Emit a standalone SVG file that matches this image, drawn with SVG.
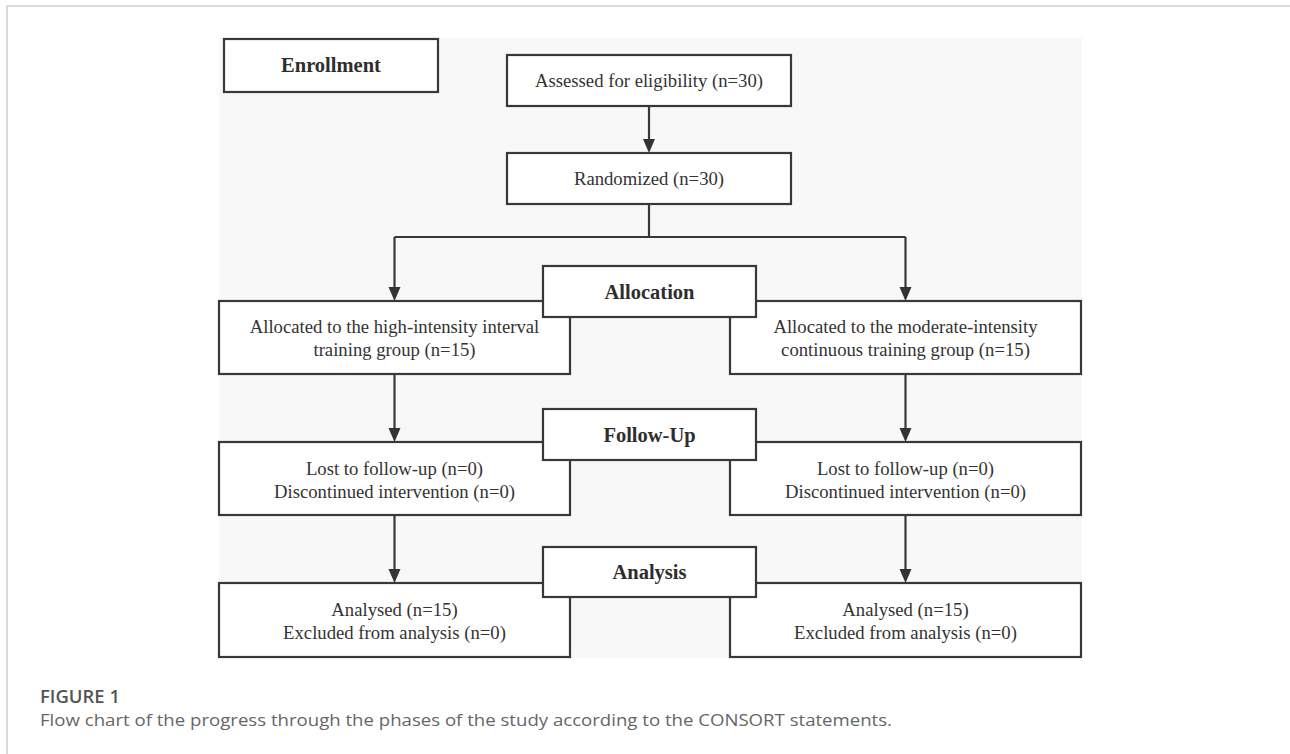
<svg xmlns="http://www.w3.org/2000/svg" width="1290" height="754" viewBox="0 0 1290 754">
<style>
.box{fill:#ffffff;stroke:#383838;stroke-width:2.2}
.t{font-family:"Liberation Serif","Times New Roman",serif;font-size:18.7px;fill:#333333;text-anchor:middle}
.b{font-family:"Liberation Serif","Times New Roman",serif;font-size:20.5px;font-weight:bold;fill:#2e2e2e;text-anchor:middle}
.c{fill:none;stroke:#383838;stroke-width:2.2}
</style>
<defs>
<marker id="ah" markerUnits="userSpaceOnUse" markerWidth="12" markerHeight="15" refX="6" refY="15" orient="auto-start-reverse" viewBox="0 0 12 15">
<path d="M0,0 L12,0 L6,15 z" fill="#333333"/>
</marker>
</defs>
<rect x="0" y="0" width="1290" height="754" fill="#ffffff"/>
<rect x="7" y="6" width="1300" height="800" fill="none" stroke="#cfcfcf" stroke-width="1.5"/>
<rect x="219" y="38" width="863" height="620" fill="#f8f8f8"/>

<g id="connectors">
<line class="c" x1="649" y1="106" x2="649" y2="140"/>
<path d="M643,139 L655,139 L649,153 z" fill="#333"/>
<polyline class="c" points="649,204 649,237"/>
<line class="c" x1="394.5" y1="237" x2="905.5" y2="237"/>
<line class="c" x1="394.5" y1="237" x2="394.5" y2="288"/>
<path d="M388.5,287 L400.5,287 L394.5,301 z" fill="#333"/>
<line class="c" x1="905.5" y1="237" x2="905.5" y2="288"/>
<path d="M899.5,287 L911.5,287 L905.5,301 z" fill="#333"/>
<line class="c" x1="394.5" y1="374" x2="394.5" y2="429"/>
<path d="M388.5,428 L400.5,428 L394.5,442 z" fill="#333"/>
<line class="c" x1="905.5" y1="374" x2="905.5" y2="429"/>
<path d="M899.5,428 L911.5,428 L905.5,442 z" fill="#333"/>
<line class="c" x1="394.5" y1="515" x2="394.5" y2="570"/>
<path d="M388.5,569 L400.5,569 L394.5,583 z" fill="#333"/>
<line class="c" x1="905.5" y1="515" x2="905.5" y2="570"/>
<path d="M899.5,569 L911.5,569 L905.5,583 z" fill="#333"/>
</g>

<g id="enrollment">
<rect class="box" x="224" y="39" width="214" height="53"/>
<text class="b" x="331" y="72">Enrollment</text>
</g>
<g id="assessed">
<rect class="box" x="507" y="55" width="284" height="51"/>
<text class="t" x="649" y="87">Assessed for eligibility (n=30)</text>
</g>
<g id="randomized">
<rect class="box" x="507" y="153" width="284" height="51"/>
<text class="t" x="649" y="185">Randomized (n=30)</text>
</g>

<g id="alloc-left">
<rect class="box" x="219" y="301" width="351" height="73"/>
<text class="t" x="394.5" y="333">Allocated to the high-intensity interval</text>
<text class="t" x="394.5" y="356">training group (n=15)</text>
</g>
<g id="alloc-right">
<rect class="box" x="730" y="301" width="351" height="73"/>
<text class="t" x="905.5" y="333">Allocated to the moderate-intensity</text>
<text class="t" x="905.5" y="356">continuous training group (n=15)</text>
</g>
<g id="allocation">
<rect class="box" x="543" y="266" width="213" height="51"/>
<text class="b" x="649.5" y="299">Allocation</text>
</g>

<g id="follow-left">
<rect class="box" x="219" y="442" width="351" height="73"/>
<text class="t" x="394.5" y="475">Lost to follow-up (n=0)</text>
<text class="t" x="394.5" y="498">Discontinued intervention (n=0)</text>
</g>
<g id="follow-right">
<rect class="box" x="730" y="442" width="351" height="73"/>
<text class="t" x="905.5" y="475">Lost to follow-up (n=0)</text>
<text class="t" x="905.5" y="498">Discontinued intervention (n=0)</text>
</g>
<g id="followup">
<rect class="box" x="543" y="409" width="213" height="51"/>
<text class="b" x="649.5" y="442">Follow-Up</text>
</g>

<g id="analysis-left">
<rect class="box" x="219" y="583" width="351" height="74"/>
<text class="t" x="394.5" y="616">Analysed (n=15)</text>
<text class="t" x="394.5" y="639">Excluded from analysis (n=0)</text>
</g>
<g id="analysis-right">
<rect class="box" x="730" y="583" width="351" height="74"/>
<text class="t" x="905.5" y="616">Analysed (n=15)</text>
<text class="t" x="905.5" y="639">Excluded from analysis (n=0)</text>
</g>
<g id="analysis">
<rect class="box" x="543" y="547" width="213" height="50"/>
<text class="b" x="649.5" y="579">Analysis</text>
</g>

<text x="40" y="703" font-family="'Open Sans','Noto Sans',sans-serif" font-size="18" font-weight="600" fill="#555555" textLength="80" lengthAdjust="spacingAndGlyphs">FIGURE 1</text>
<text x="40" y="726" font-family="'Open Sans','Noto Sans',sans-serif" font-size="17" fill="#666666" textLength="852" lengthAdjust="spacingAndGlyphs">Flow chart of the progress through the phases of the study according to the CONSORT statements.</text>
</svg>
